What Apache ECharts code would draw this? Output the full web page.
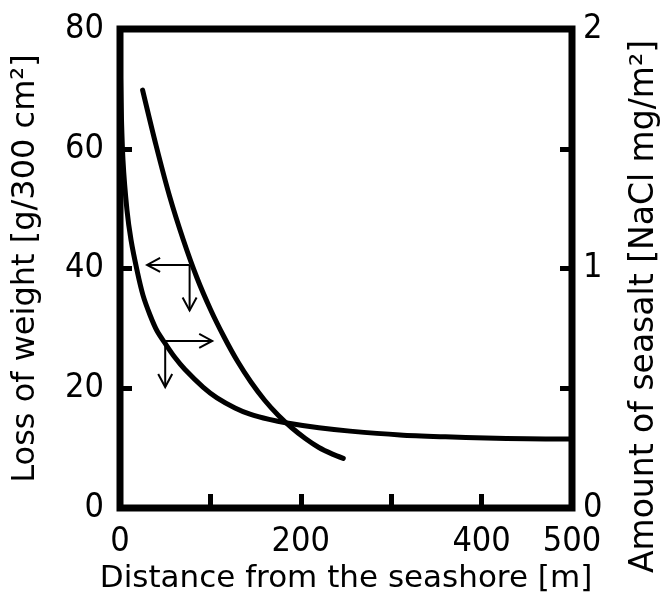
<!DOCTYPE html>
<html>
<head>
<meta charset="utf-8">
<script src="https://cdn.jsdelivr.net/npm/echarts@6/dist/echarts.min.js"></script>
<style>html,body{margin:0;padding:0;background:#fff;}#c{width:661px;height:594px;}</style>
</head>
<body>
<div id="c"></div>
<script>
// Loss of weight (left axis) [distance m, g/300cm2]
var weightLoss = [[25,69.8],[40,60.5],[55,52],[70,44.8],[85,38.5],[100,33.2],[115,28.6],[130,24.5],[145,21],[160,18],[175,15.5],[190,13.4],[205,11.6],[220,10.1],[235,9.0],[247,8.3]];
// Amount of seasalt (right axis) [distance m, NaCl mg/m2]
var seasalt = [[0,1.92],[1.1,1.70],[3.3,1.452],[7.7,1.244],[12.2,1.119],[18.8,0.993],[25.4,0.889],[33.2,0.806],[40.9,0.740],[49.8,0.688],[60.8,0.628],[71.9,0.578],[91.8,0.505],[107.3,0.460],[127.2,0.418],[143.8,0.392],[165,0.370],[184.7,0.355],[220,0.335],[254.4,0.321],[309.7,0.305],[360,0.297],[404.9,0.292],[450,0.289],[497.8,0.288]];
// Annotation arrows [x0, y0, x1(tip), y1(tip)] in left-axis units
var arrows = [[77,40.6,30,40.6],[77,40.6,77,33],[50,27.9,102,27.9],[50,27.9,50,20.2]];
var xTickLabels = [0,200,400,500];
var leftTickLabels = [0,20,40,60,80];
var rightTickLabels = [0,1,2];

var numFont = "'Liberation Sans Narrow','DejaVu Sans Condensed',sans-serif";
var titleFont = "'DejaVu Sans',sans-serif";

var chart = echarts.init(document.getElementById('c'), null, {renderer:'canvas'});
chart.setOption({
  animation:false,
  backgroundColor:'#fff',
  grid:{left:120,right:89,top:29,bottom:86,outerBoundsMode:'none',containLabel:false,show:true,borderColor:'#000',borderWidth:7,backgroundColor:'transparent'},
  xAxis:{
    type:'value',min:0,max:500,interval:100,
    name:'Distance from the seashore [m]',nameLocation:'middle',nameGap:52,
    nameTextStyle:{fontFamily:titleFont,fontSize:31,color:'#000'},
    axisLine:{show:false},
    axisTick:{show:true,inside:true,length:14,lineStyle:{color:'#000',width:5}},
    axisLabel:{margin:17,fontFamily:numFont,fontSize:34,color:'#000',
      formatter:function(v){return xTickLabels.indexOf(v)>=0?String(v):'';}},
    splitLine:{show:false}
  },
  yAxis:[{
    type:'value',min:0,max:80,interval:20,position:'left',
    name:'Loss of weight [g/300 cm²]',nameLocation:'middle',nameGap:78,nameRotate:90,
    nameTextStyle:{fontFamily:titleFont,fontSize:32,color:'#000'},
    axisLine:{show:false},
    axisTick:{show:true,inside:true,length:12,lineStyle:{color:'#000',width:5}},
    axisLabel:{margin:16,fontFamily:numFont,fontSize:34,color:'#000',
      formatter:function(v){return leftTickLabels.indexOf(v)>=0?String(v):'';}},
    splitLine:{show:false}
  },{
    type:'value',min:0,max:2,interval:0.5,position:'right',
    name:'Amount of seasalt [NaCl mg/m²]',nameLocation:'middle',nameGap:56,nameRotate:90,
    nameTextStyle:{fontFamily:titleFont,fontSize:33,color:'#000',padding:[0,76,0,0]},
    axisLine:{show:false},
    axisTick:{show:true,inside:true,length:12,lineStyle:{color:'#000',width:5}},
    axisLabel:{margin:11,fontFamily:numFont,fontSize:34,color:'#000',
      formatter:function(v){return rightTickLabels.indexOf(v)>=0?String(v):'';}},
    splitLine:{show:false}
  }],
  series:[{
    type:'line',yAxisIndex:0,data:weightLoss,smooth:0.3,showSymbol:false,clip:false,
    lineStyle:{color:'#000',width:5,cap:'round',join:'round'}
  },{
    type:'line',yAxisIndex:1,data:seasalt,smooth:0.3,showSymbol:false,clip:false,
    lineStyle:{color:'#000',width:5,cap:'round',join:'round'}
  },{
    type:'custom',yAxisIndex:0,data:arrows,encode:{x:[0,2],y:[1,3]},clip:false,
    renderItem:function(params,api){
      var p0=api.coord([api.value(0),api.value(1)]);
      var p1=api.coord([api.value(2),api.value(3)]);
      var dx=p1[0]-p0[0],dy=p1[1]-p0[1],len=Math.sqrt(dx*dx+dy*dy);
      var ux=dx/len,uy=dy/len,hl=13,hw=7;
      var a=[p1[0]-ux*hl-uy*hw,p1[1]-uy*hl+ux*hw];
      var b=[p1[0]-ux*hl+uy*hw,p1[1]-uy*hl-ux*hw];
      var st={stroke:'#000',lineWidth:2,fill:null};
      return {type:'group',children:[
        {type:'line',shape:{x1:p0[0],y1:p0[1],x2:p1[0],y2:p1[1]},style:st},
        {type:'polyline',shape:{points:[a,p1,b]},style:st}
      ]};
    }
  }]
});
</script>
</body>
</html>
